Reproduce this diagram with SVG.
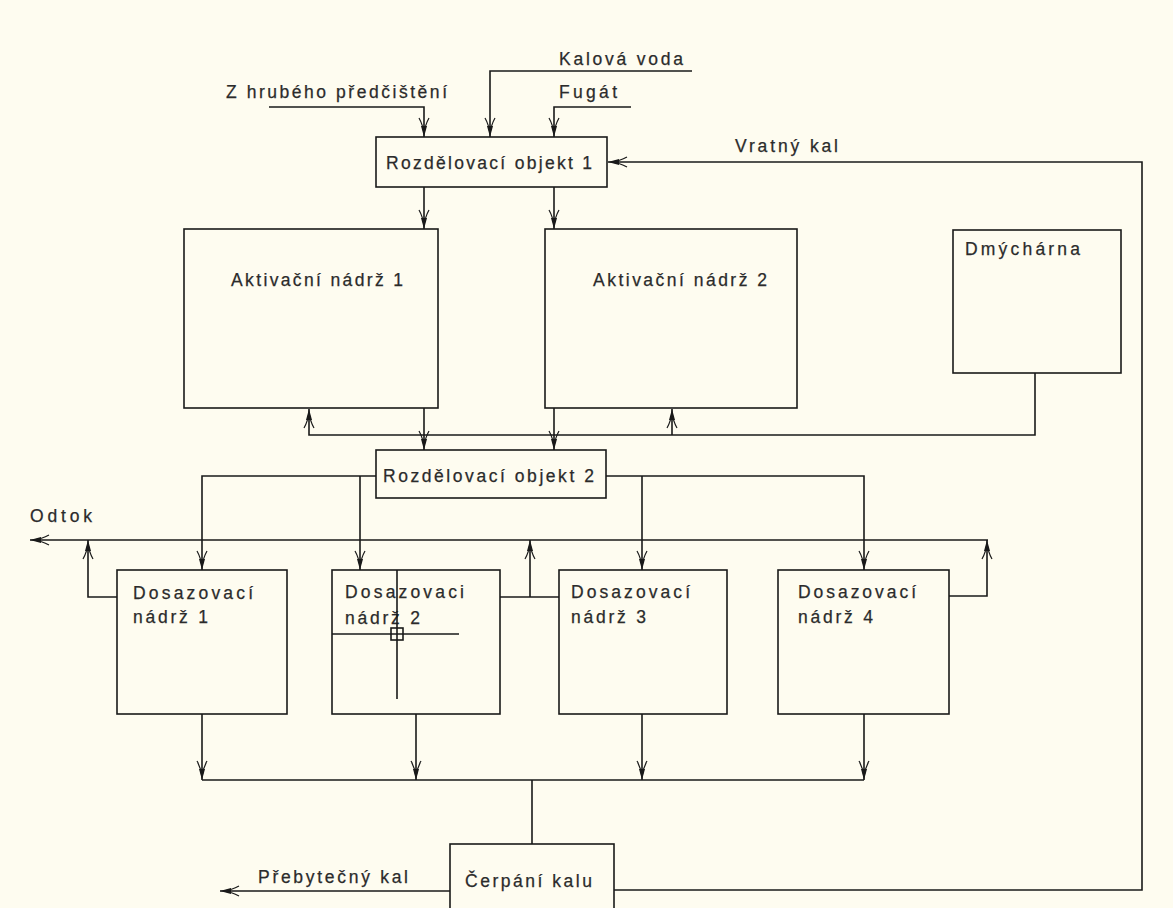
<svg xmlns="http://www.w3.org/2000/svg" width="1173" height="908" viewBox="0 0 1173 908">
<style>
.bg{fill:#fefcf0}
.box{fill:none;stroke:#1a1a1a;stroke-width:1.6}
.ln{fill:none;stroke:#1a1a1a;stroke-width:1.6}
.ar{marker-end:url(#arr)}
text{font-family:"Liberation Sans",Arial,sans-serif;font-size:17.5px;fill:#2b2b2b;stroke:#2b2b2b;stroke-width:0.25}
</style>
<defs>
<marker id="arr" markerUnits="userSpaceOnUse" markerWidth="24" markerHeight="14" viewBox="-22 -7 24 14" refX="0" refY="0" orient="auto" overflow="visible">
<path d="M0,0 L-11,-3 L-11,3 Z" fill="#1a1a1a"/>
<path d="M-3,0 Q-12,-1 -19,-5 M-3,0 Q-12,1 -19,5" fill="none" stroke="#1a1a1a" stroke-width="1.2"/>
</marker>
</defs>
<rect class="bg" x="0" y="0" width="1173" height="908"/>
<g id="connectors">
<path class="ln ar" d="M269,107 H424 V137"/>
<path class="ln ar" d="M692,71 H490 V137"/>
<path class="ln ar" d="M631,107 H554 V137"/>
<path class="ln ar" d="M614,890 H1142 V162 H608"/>
<path class="ln ar" d="M424,187 V229"/>
<path class="ln ar" d="M554,187 V229"/>
<path class="ln ar" d="M1035,373 V435 H309 V409"/>
<path class="ln ar" d="M672,435 V409"/>
<path class="ln ar" d="M424,408 V450"/>
<path class="ln ar" d="M554,408 V450"/>
<path class="ln ar" d="M376,476 H202 V570"/>
<path class="ln ar" d="M360,476 V570"/>
<path class="ln ar" d="M606,476 H864 V570"/>
<path class="ln ar" d="M642,476 V570"/>
<path class="ln ar" d="M988,540 H30"/>
<path class="ln ar" d="M117,597 H88 V540"/>
<path class="ln" d="M500,597 H559"/>
<path class="ln ar" d="M530,597 V540"/>
<path class="ln ar" d="M949,596 H987 V540"/>
<path class="ln ar" d="M202,714 V780"/>
<path class="ln ar" d="M416,714 V780"/>
<path class="ln ar" d="M642,714 V780"/>
<path class="ln ar" d="M864,714 V780"/>
<path class="ln" d="M202,780 H864 M532,780 V844"/>
<path class="ln ar" d="M450,891 H220"/>
</g>
<g id="labels">
<text x="226" y="98" textLength="221" lengthAdjust="spacing">Z hrubého předčištění</text>
<text x="559" y="65" textLength="124" lengthAdjust="spacing">Kalová voda</text>
<text x="559" y="98" textLength="58" lengthAdjust="spacing">Fugát</text>
<text x="735" y="152" textLength="103" lengthAdjust="spacing">Vratný kal</text>
<text x="30" y="522" textLength="62" lengthAdjust="spacing">Odtok</text>
<text x="258" y="883" textLength="150" lengthAdjust="spacing">Přebytečný kal</text>
</g>
<g id="ro1">
<rect class="box" x="376" y="137" width="231" height="50"/>
<text x="386" y="169" textLength="206" lengthAdjust="spacing">Rozdělovací objekt 1</text>
</g>
<g id="an1">
<rect class="box" x="184" y="229" width="254" height="179"/>
<text x="231" y="286" textLength="172" lengthAdjust="spacing">Aktivační nádrž 1</text>
</g>
<g id="an2">
<rect class="box" x="545" y="229" width="252" height="179"/>
<text x="593" y="286" textLength="174" lengthAdjust="spacing">Aktivační nádrž 2</text>
</g>
<g id="dmychar">
<rect class="box" x="953" y="230" width="168" height="143"/>
<text x="965" y="255" textLength="115" lengthAdjust="spacing">Dmýchárna</text>
</g>
<g id="ro2">
<rect class="box" x="376" y="450" width="230" height="48"/>
<text x="383" y="482" textLength="211" lengthAdjust="spacing">Rozdělovací objekt 2</text>
</g>
<g id="dn1">
<rect class="box" x="117" y="570" width="170" height="144"/>
<text x="133" y="599" textLength="120" lengthAdjust="spacing">Dosazovací</text>
<text x="133" y="623" textLength="75" lengthAdjust="spacing">nádrž 1</text>
</g>
<g id="dn2">
<rect class="box" x="332" y="570" width="168" height="144"/>
<text x="345" y="598" textLength="119" lengthAdjust="spacing">Dosazovaci</text>
<text x="345" y="624" textLength="75" lengthAdjust="spacing">nádrž 2</text>
<path class="ln" d="M397,570 V699 M332,634 H459"/>
<rect class="box" x="391" y="628" width="12" height="12"/>
</g>
<g id="dn3">
<rect class="box" x="559" y="570" width="168" height="144"/>
<text x="571" y="598" textLength="119" lengthAdjust="spacing">Dosazovací</text>
<text x="571" y="623" textLength="75" lengthAdjust="spacing">nádrž 3</text>
</g>
<g id="dn4">
<rect class="box" x="778" y="570" width="171" height="144"/>
<text x="798" y="598" textLength="118" lengthAdjust="spacing">Dosazovací</text>
<text x="798" y="623" textLength="75" lengthAdjust="spacing">nádrž 4</text>
</g>
<g id="cerpani">
<rect class="box" x="450" y="844" width="164" height="80"/>
<text x="465" y="887" textLength="127" lengthAdjust="spacing">Čerpání kalu</text>
</g>
</svg>
